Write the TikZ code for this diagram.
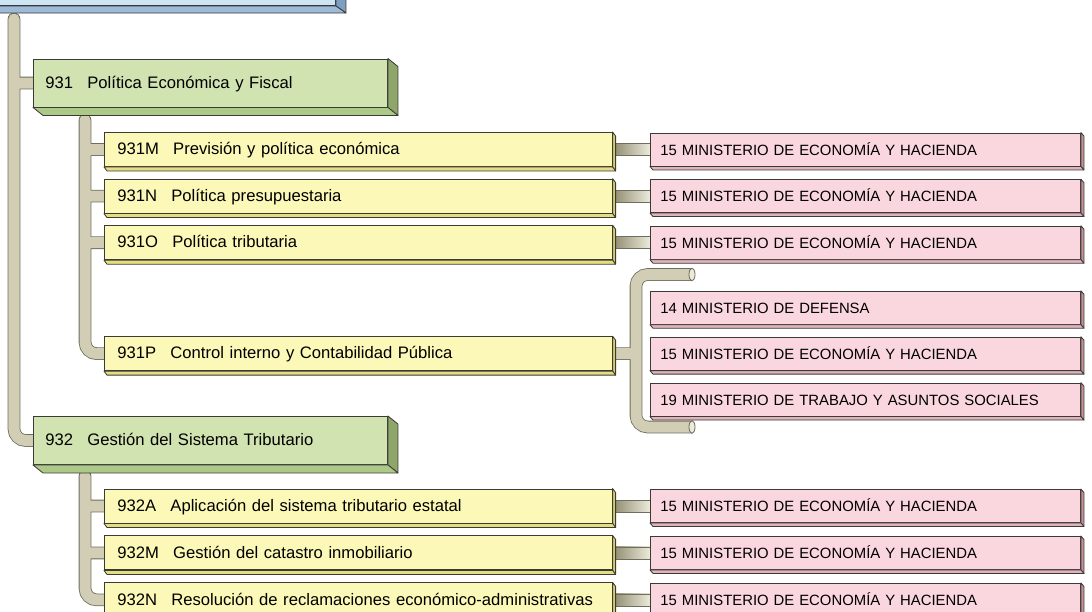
\documentclass[tikz,border=0pt]{standalone}
\usepackage{fontspec}
\setmainfont{Liberation Sans}
\usetikzlibrary{positioning, calc, backgrounds}

\definecolor{boxline}{HTML}{3A3A36}
\definecolor{rootfill}{HTML}{CDE4F5}
\definecolor{rootside}{HTML}{7F9FC0}
\definecolor{rootbottom}{HTML}{9DBAD8}
\definecolor{areafill}{HTML}{D1E3B1}
\definecolor{areaside}{HTML}{8FA66B}
\definecolor{areabottom}{HTML}{ADC988}
\definecolor{progfill}{HTML}{FCF8B8}
\definecolor{progside}{HTML}{D9CE6A}
\definecolor{progbottom}{HTML}{E6DC80}
\definecolor{deptfill}{HTML}{FAD7DF}
\definecolor{deptside}{HTML}{C4919B}
\definecolor{deptbottom}{HTML}{E0B2BB}
\definecolor{pipefill}{HTML}{D2CEB5}
\definecolor{pipeedge}{HTML}{6F6D5C}
\definecolor{pipedark}{HTML}{8E8B6E}
\definecolor{pipelight}{HTML}{ECEADB}

% side and bottom faces of a box: node, offset, side colour, bottom colour
\newcommand{\bevel}[4]{%
    \filldraw[fill=#3, draw=boxline, line width=0.7pt, line join=round]
        (#1.north east) -- ++(#2) -- ($(#1.south east)+(#2)$) -- (#1.south east) -- cycle;
    \filldraw[fill=#4, draw=boxline, line width=0.7pt, line join=round]
        (#1.south west) -- ++(#2) -- ($(#1.south east)+(#2)$) -- (#1.south east) -- cycle;
}
\newcommand{\gap}{\hspace{0.85em}}

\begin{document}
\begin{tikzpicture}[x=0.03cm, y=-0.03cm]
    \tikzset{
        box/.style={draw=boxline, line width=0.8pt, inner ysep=0pt, text height=0.9em, text depth=0pt, align=left, anchor=west}, % every box
        area/.style={box, fill=areafill, text width=9.9cm, inner xsep=0.36cm, minimum height=1.44cm, font=\fontsize{14.2}{17}\selectfont},
        prog/.style={box, fill=progfill, text width=14.45cm, inner xsep=0.39cm, minimum height=1.02cm, font=\fontsize{14.2}{17}\selectfont},
        dept/.style={box, fill=deptfill, text width=12.3cm, inner xsep=0.3cm, minimum height=0.99cm, text height=1em, font=\fontsize{12.7}{15}\selectfont},
        pipe/.style={draw=pipeedge, line width=0.7pt, double=pipefill, double distance=0.33cm}, % tube between boxes
        link/.style={draw=pipeedge, line width=0.6pt, left color=pipedark, right color=pipelight},
    }
    \useasboundingbox (0,0) rectangle (1092,611);
    \clip (0,0) rectangle (1092,611);

    % nodes
    \node[box, fill=rootfill, minimum width=10.95cm, minimum height=1.38cm, anchor=south west] (root) at (-30,6) {};
    \node[area] (g931) at (33,83) {931\gap Política Económica y Fiscal};
    \node[area] (g932) at (33,440.5) {932\gap Gestión del Sistema Tributario};

    \node[prog] (y931M) at (104,149.5) {931M\gap Previsión y política económica};
    \node[prog, below=0.35cm of y931M] (y931N) {931N\gap Política presupuestaria};
    \node[prog, below=0.35cm of y931N] (y931O) {931O\gap Política tributaria};
    \node[prog, below=2.28cm of y931O] (y931P) {931P\gap Control interno y Contabilidad Pública};
    \node[prog] (y932A) at (104,506) {932A\gap Aplicación del sistema tributario estatal};
    \node[prog, below=0.36cm of y932A] (y932M) {932M\gap Gestión del catastro inmobiliario};
    \node[prog, below=0.36cm of y932M] (y932N) {932N\gap Resolución de reclamaciones económico-administrativas};

    \foreach \n in {931M, 931N, 931O, 931P, 932A, 932M, 932N}
        \node[dept, right=1.12cm of y\n] (p\n) {15 MINISTERIO DE ECONOMÍA Y HACIENDA};
    \node[dept, above=0.36cm of p931P] (p931P14) {14 MINISTERIO DE DEFENSA};
    \node[dept, below=0.36cm of p931P] (p931P19) {19 MINISTERIO DE TRABAJO Y ASUNTOS SOCIALES};

    % 3d faces
    \bevel{root}{10,7}{rootside}{rootbottom}
    \foreach \n in {g931, g932} {\bevel{\n}{10,8}{areaside}{areabottom}}
    \foreach \n in {931M, 931N, 931O, 931P, 932A, 932M, 932N} {\bevel{y\n}{3,4}{progside}{progbottom}}
    \foreach \n in {931M, 931N, 931O, 931P, 931P14, 931P19, 932A, 932M, 932N} {\bevel{p\n}{3,3.5}{deptside}{deptbottom}}

    % tubes
    \coordinate (t0) at (14,19);
    \coordinate (u1) at (85,120);
    \coordinate (u2) at (85,476);
    \coordinate (b1) at (692,274.5);
    \coordinate (b2) at (692,427);
    \begin{scope}[on background layer]
        \draw[pipe, line cap=round, rounded corners=0.35cm] (t0) |- (g932.west) (t0 |- g931.west) -- (g931.west);
        \draw[pipe, line cap=round, rounded corners=0.35cm] (u1) |- (y931P.west)
            foreach \n in {y931M, y931N, y931O} {(u1 |- \n.west) -- (\n.west)};
        \draw[pipe, line cap=round, rounded corners=0.35cm] (u2) |- (y932N.west)
            foreach \n in {y932A, y932M} {(u2 |- \n.west) -- (\n.west)};
        \draw[pipe, rounded corners=0.35cm] (b1) -- ++(-56,0) |- (b2) (y931P.east) -- ++(23,0);
        \filldraw[fill=pipelight, draw=pipeedge, line width=0.7pt] (b1) ellipse [x radius=0.09cm, y radius=0.19cm];
        \filldraw[fill=pipelight, draw=pipeedge, line width=0.7pt] (b2) ellipse [x radius=0.09cm, y radius=0.19cm];
        \foreach \n in {931M, 931N, 931O, 932A, 932M, 932N}
            \shadedraw[link] ($(y\n.east)+(0,-6)$) rectangle ($(p\n.west)+(0,6)$);
    \end{scope}
\end{tikzpicture}
\end{document}
